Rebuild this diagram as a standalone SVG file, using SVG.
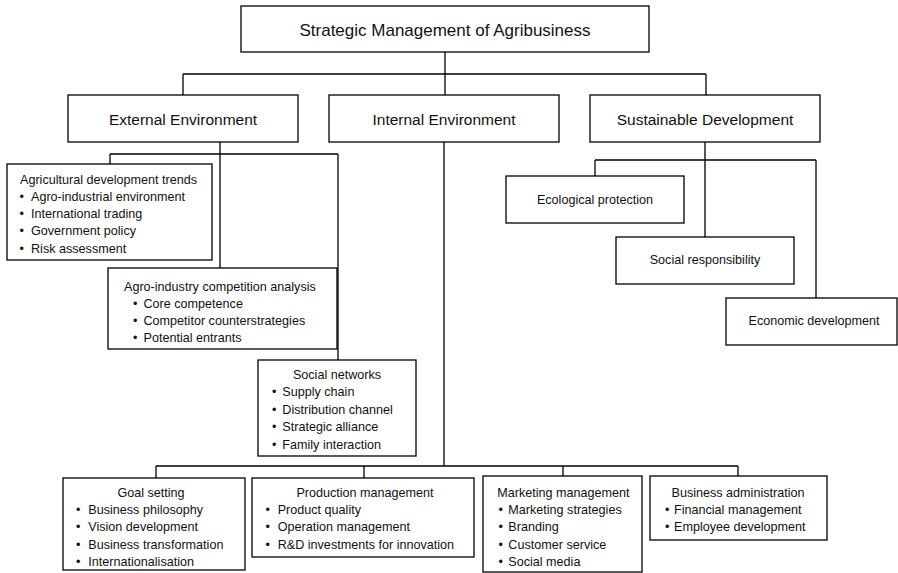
<svg xmlns="http://www.w3.org/2000/svg" width="898" height="573" viewBox="0 0 898 573">
<style>
rect{fill:#fff;stroke:#000;stroke-width:1.3}
.c line,.c path{fill:none;stroke:#000;stroke-width:1.3}
text{font-family:"Liberation Sans",Arial,sans-serif;fill:#111;font-size:12.6px}
.h{font-size:15.5px;text-anchor:middle}
.t{font-size:17px;text-anchor:middle}
.m{text-anchor:middle}
</style>
<rect x="0" y="0" width="898" height="573" style="stroke:none"/>
<g class="c" id="connectors">
<line x1="445" y1="52" x2="445" y2="74"/>
<line x1="183" y1="74" x2="706" y2="74"/>
<line x1="183" y1="74" x2="183" y2="95"/>
<line x1="445" y1="74" x2="445" y2="95"/>
<line x1="706" y1="74" x2="706" y2="95"/>
<line x1="220" y1="142" x2="220" y2="268"/>
<line x1="110" y1="154" x2="338" y2="154"/>
<line x1="110" y1="154" x2="110" y2="164"/>
<line x1="338" y1="154" x2="338" y2="360"/>
<line x1="705" y1="142" x2="705" y2="237"/>
<line x1="595" y1="160" x2="816" y2="160"/>
<line x1="595" y1="160" x2="595" y2="176"/>
<line x1="816" y1="160" x2="816" y2="298"/>
<line x1="444" y1="142" x2="444" y2="466"/>
<line x1="156" y1="466" x2="738" y2="466"/>
<line x1="156" y1="466" x2="156" y2="478"/>
<line x1="364" y1="466" x2="364" y2="478"/>
<line x1="563" y1="466" x2="563" y2="476"/>
<line x1="738" y1="466" x2="738" y2="476"/>
</g>
<g id="root"><rect x="241" y="6" width="408" height="46"/><text class="t" x="445" y="36">Strategic Management of Agribusiness</text></g>
<g id="external"><rect x="68" y="95" width="230" height="47"/><text class="h" x="183" y="124.5">External Environment</text></g>
<g id="internal"><rect x="329" y="95" width="230" height="47"/><text class="h" x="444" y="124.5">Internal Environment</text></g>
<g id="sustainable"><rect x="590" y="95" width="230" height="47"/><text class="h" x="705" y="124.5">Sustainable Development</text></g>
<g id="agri-trends"><rect x="7" y="164" width="205" height="96"/>
<text x="20" y="183.5">Agricultural development trends</text>
<text y="200.8"><tspan x="19.5">•</tspan><tspan x="31">Agro-industrial environment</tspan></text>
<text y="218.1"><tspan x="19.5">•</tspan><tspan x="31">International trading</tspan></text>
<text y="235.4"><tspan x="19.5">•</tspan><tspan x="31">Government policy</tspan></text>
<text y="252.7"><tspan x="19.5">•</tspan><tspan x="31">Risk assessment</tspan></text>
</g>
<g id="competition"><rect x="108" y="268" width="229" height="81"/>
<text x="124" y="291">Agro-industry competition analysis</text>
<text y="308"><tspan x="133">•</tspan><tspan x="143.5">Core competence</tspan></text>
<text y="325.2"><tspan x="133">•</tspan><tspan x="143.5">Competitor counterstrategies</tspan></text>
<text y="342.4"><tspan x="133">•</tspan><tspan x="143.5">Potential entrants</tspan></text>
</g>
<g id="social-networks"><rect x="258" y="360" width="158" height="96"/>
<text class="m" x="337" y="379">Social networks</text>
<text y="396.4"><tspan x="272">•</tspan><tspan x="282.3">Supply chain</tspan></text>
<text y="413.8"><tspan x="272">•</tspan><tspan x="282.3">Distribution channel</tspan></text>
<text y="431.2"><tspan x="272">•</tspan><tspan x="282.3">Strategic alliance</tspan></text>
<text y="448.6"><tspan x="272">•</tspan><tspan x="282.3">Family interaction</tspan></text>
</g>
<g id="ecological"><rect x="506" y="176" width="178" height="47"/><text class="m" x="595" y="203.5">Ecological protection</text></g>
<g id="social-resp"><rect x="616" y="237" width="178" height="47"/><text class="m" x="705" y="263.5">Social responsibility</text></g>
<g id="economic"><rect x="726" y="298" width="171" height="47"/><text class="m" x="814" y="325">Economic development</text></g>
<g id="goal"><rect x="63" y="478" width="182" height="92"/>
<text class="m" x="151" y="496.5">Goal setting</text>
<text y="514"><tspan x="76">•</tspan><tspan x="88.3">Business philosophy</tspan></text>
<text y="531.3"><tspan x="76">•</tspan><tspan x="88.3">Vision development</tspan></text>
<text y="548.6"><tspan x="76">•</tspan><tspan x="88.3">Business transformation</tspan></text>
<text y="566"><tspan x="76">•</tspan><tspan x="88.3">Internationalisation</tspan></text>
</g>
<g id="production"><rect x="252" y="478" width="222" height="79"/>
<text class="m" x="365" y="496.5">Production management</text>
<text y="514"><tspan x="265.5">•</tspan><tspan x="277.7">Product quality</tspan></text>
<text y="531.3"><tspan x="265.5">•</tspan><tspan x="277.7">Operation management</tspan></text>
<text y="548.6"><tspan x="265.5">•</tspan><tspan x="277.7">R&amp;D investments for innovation</tspan></text>
</g>
<g id="marketing"><rect x="483" y="476" width="159" height="96"/>
<text x="497.3" y="496.5">Marketing management</text>
<text y="514"><tspan x="498.5">•</tspan><tspan x="508.3">Marketing strategies</tspan></text>
<text y="531.3"><tspan x="498.5">•</tspan><tspan x="508.3">Branding</tspan></text>
<text y="548.6"><tspan x="498.5">•</tspan><tspan x="508.3">Customer service</tspan></text>
<text y="566"><tspan x="498.5">•</tspan><tspan x="508.3">Social media</tspan></text>
</g>
<g id="business-admin"><rect x="650" y="476" width="177" height="64"/>
<text class="m" x="738" y="496.5">Business administration</text>
<text y="514"><tspan x="665">•</tspan><tspan x="674">Financial management</tspan></text>
<text y="531.3"><tspan x="665">•</tspan><tspan x="674">Employee development</tspan></text>
</g>
</svg>
